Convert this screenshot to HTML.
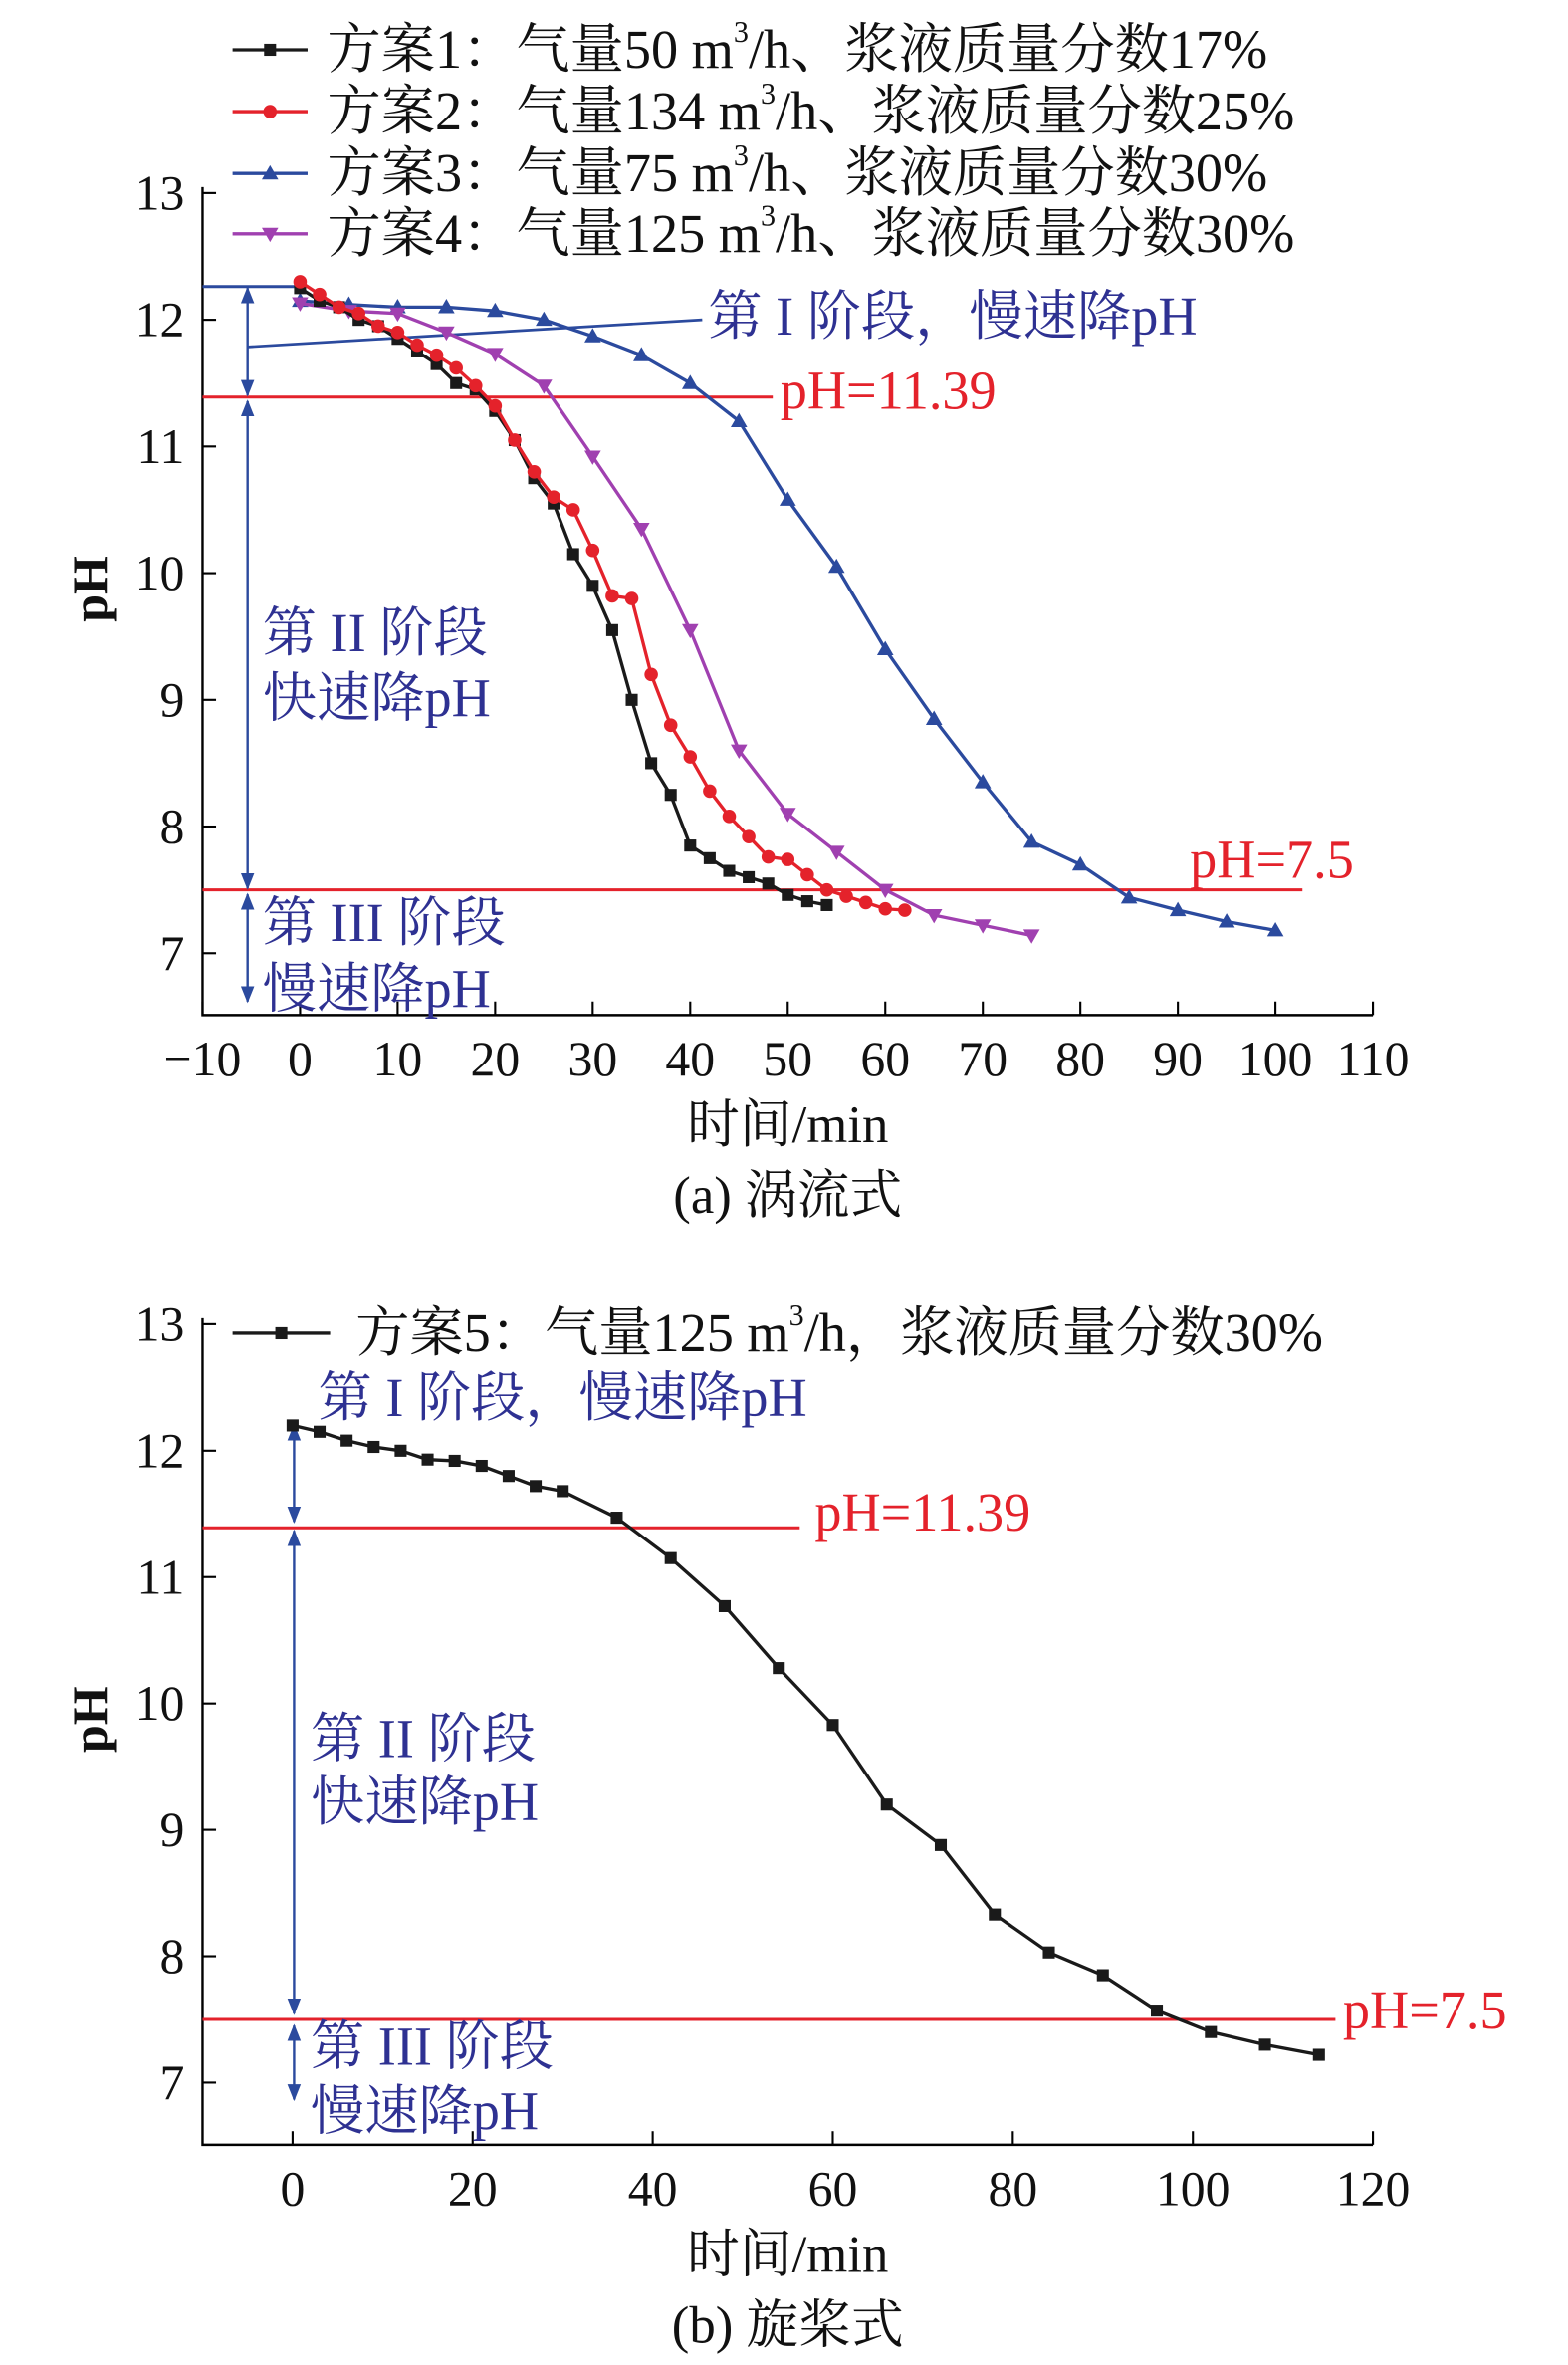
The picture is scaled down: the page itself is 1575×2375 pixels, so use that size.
<!DOCTYPE html>
<html><head><meta charset="utf-8"><style>
html,body{margin:0;padding:0;background:#fff}
svg{display:block}
text{font-family:"Liberation Serif","Noto Serif CJK SC",serif}
</style></head><body>
<svg id="root" width="1575" height="2375" viewBox="0 0 1045 1568" preserveAspectRatio="none" xmlns="http://www.w3.org/2000/svg"></svg>
<script>
// ---- Chart (a) data ----
const aXTicks = [-10,0,10,20,30,40,50,60,70,80,90,100,110];
const aYTicks = [7,8,9,10,11,12,13];
const s1T = [0,2,4,6,8,10,12,14,16,18,20,22,24,26,28,30,32,34,36,38,40,42,44,46,48,50,52,54];
const s1V = [12.25,12.15,12.1,12.0,11.95,11.85,11.75,11.65,11.5,11.45,11.28,11.05,10.75,10.55,10.15,9.9,9.55,9.0,8.5,8.25,7.85,7.75,7.65,7.6,7.55,7.46,7.41,7.38];
const s2T = [0,2,4,6,8,10,12,14,16,18,20,22,24,26,28,30,32,34,36,38,40,42,44,46,48,50,52,54,56,58,60,62];
const s2V = [12.3,12.2,12.1,12.05,11.95,11.9,11.8,11.72,11.62,11.48,11.32,11.05,10.8,10.6,10.5,10.18,9.82,9.8,9.2,8.8,8.55,8.28,8.08,7.92,7.76,7.74,7.62,7.5,7.45,7.4,7.35,7.34];
const s3T = [0,5,10,15,20,25,30,35,40,45,50,55,60,65,70,75,80,85,90,95,100];
const s3V = [12.15,12.12,12.1,12.1,12.07,12.0,11.87,11.72,11.5,11.2,10.58,10.05,9.4,8.85,8.35,7.88,7.7,7.44,7.34,7.25,7.18];
const s4T = [0,5,10,15,20,25,30,35,40,45,50,55,60,65,70,75];
const s4V = [12.13,12.07,12.05,11.9,11.73,11.48,10.92,10.35,9.55,8.6,8.1,7.8,7.5,7.3,7.22,7.14];
// ---- Chart (b) data ----
const bXTicks = [0,20,40,60,80,100,120];
const bYTicks = [7,8,9,10,11,12,13];
const s5T = [0,3,6,9,12,15,18,21,24,27,30,36,42,48,54,60,66,72,78,84,90,96,102,108,114];
const s5V = [12.2,12.15,12.08,12.03,12.0,11.93,11.92,11.88,11.8,11.72,11.68,11.47,11.15,10.77,10.28,9.83,9.2,8.88,8.33,8.03,7.85,7.57,7.4,7.3,7.22];
const thresholds = [11.39, 7.5];

const NS="http://www.w3.org/2000/svg";
const root=document.getElementById('root');
function mk(tag,attrs,parent){const e=document.createElementNS(NS,tag);for(const k in attrs)e.setAttribute(k,attrs[k]);(parent||root).appendChild(e);return e;}
function txt(s,x,y,size,fill,anchor,parent,extra){const t=mk('text',Object.assign({x:x,y:y,'font-size':size,fill:fill||'#111','text-anchor':anchor||'start','dominant-baseline':'central'},extra||{}),parent);t.textContent=s;return t;}

const BLUE='#2b4a9e',NAVY='#2e3192',RED='#e4222b',PURP='#a040b0',BLK='#1a1a1a';
const FS=36;
mk('defs',{}).innerHTML='<marker id="ah" viewBox="0 0 10 10" refX="9" refY="5" markerWidth="7" markerHeight="9" orient="auto-start-reverse"><path d="M0,1 L10,5 L0,9 Z" fill="'+BLUE+'"/></marker>';

function makeChart(cfg){
  const g=mk('g',{});
  
  
  const X=v=>cfg.L+(v-cfg.xmin)/(cfg.xmax-cfg.xmin)*(cfg.R-cfg.L);
  const Y=v=>cfg.y13+(13-v)*cfg.unit;
  const B=cfg.B;
  const ax=mk('path',{d:`M${cfg.L},${cfg.y13-4} V${B} H${cfg.R}`,stroke:'#000','stroke-width':1.6,fill:'none'},g);
  
  
  cfg.xticks.forEach(v=>{
    mk('line',{x1:X(v),x2:X(v),y1:B,y2:B-9,stroke:'#000','stroke-width':1.4},g);
    const t=txt((v<0?'\u2212':'')+Math.abs(v),X(v),B+29,33,'#111','middle',g);
    
    
  });
  cfg.yticks.forEach(v=>{
    mk('line',{x1:cfg.L,x2:cfg.L+9,y1:Y(v),y2:Y(v),stroke:'#000','stroke-width':1.4},g);
    const t=txt(String(v),cfg.L-12,Y(v),33,'#111','end',g);
    
    
  });
  const yt=txt('pH',0,0,33,'#111','middle',g,{'font-weight':'bold',transform:`translate(60,${(cfg.y13+B)/2-10}) rotate(-90)`});
  
  
  const xt=txt('时间/min',525,B+73,35,'#111','middle',g);
  
  
  const cap=txt(cfg.caption,525,B+120,35,'#111','middle',g);
  
  
  return {g,X,Y};
}

function marker(kind,x,y,color,g){
  if(kind==='sq') return mk('rect',{x:x-4,y:y-4,width:8,height:8,fill:color},g);
  if(kind==='ci') return mk('circle',{cx:x,cy:y,r:4.5,fill:color},g);
  if(kind==='tu') return mk('path',{d:`M${x},${y-5.5} L${x+5.5},${y+4} L${x-5.5},${y+4} Z`,fill:color},g);
  return mk('path',{d:`M${x},${y+5.5} L${x+5.5},${y-4} L${x-5.5},${y-4} Z`,fill:color},g);
}
function series(ch,T,V,color,kind,name){
  const g=mk('g',{},ch.g);
  
  
  mk('polyline',{points:T.map((t,i)=>ch.X(t)+','+ch.Y(V[i])).join(' '),fill:'none',stroke:color,'stroke-width':2.2},g);
  T.forEach((t,i)=>{const m=marker(kind,ch.X(t),ch.Y(V[i]),color,g);
    
    });
}
function legend(ch,x1,x2,y,color,kind,label,tx){
  const g=mk('g',{},ch.g);
  
  
  mk('line',{x1:x1,x2:x2,y1:y,y2:y,stroke:color,'stroke-width':2.2},g);
  marker(kind,(x1+x2)/2,y,color,g);
  const t=txt('',tx,y,FS,'#111','start',g);
  t.innerHTML=label;
}
function arrow(ch,x,y1,y2){
  const a=mk('line',{x1:x,x2:x,y1:y1,y2:y2,stroke:BLUE,'stroke-width':1.6,'marker-start':'url(#ah)','marker-end':'url(#ah)'},ch.g);
  
  
}
function hline(ch,v,x2,label,lx,ly){
  const l=mk('line',{x1:ch.X(-10),x2:x2,y1:ch.Y(v),y2:ch.Y(v),stroke:RED,'stroke-width':2},ch.g);
  
  
  const t=txt(label,lx,ly,FS,RED,'start',ch.g);
  
  
}
function note(ch,s,x,y){const t=txt(s,x,y,FS,NAVY,'start',ch.g);
  
  }
const SUP='<tspan font-size="20" dy="-12">3</tspan><tspan dy="12">';

// ---- Chart a ----
const A=makeChart({name:'chart-a',L:135,R:915,xmin:-10,xmax:110,y13:128,unit:84,B:673,xticks:aXTicks,yticks:aYTicks,caption:'(a) 涡流式'});
mk('line',{x1:135,x2:200,y1:190,y2:190,stroke:BLUE,'stroke-width':2},A.g);
mk('line',{x1:165,x2:468,y1:230,y2:212,stroke:BLUE,'stroke-width':1.8},A.g);
hline(A,thresholds[0],515,'pH=11.39',520,259);
hline(A,thresholds[1],868,'pH=7.5',793,570);
arrow(A,165,191,262);arrow(A,165,266,589);arrow(A,165,593,664);
series(A,s3T,s3V,BLUE,'tu','series-scheme3');
series(A,s4T,s4V,PURP,'td','series-scheme4');
series(A,s1T,s1V,BLK,'sq','series-scheme1');
series(A,s2T,s2V,RED,'ci','series-scheme2');
note(A,'第 I 阶段，慢速降pH',472,210);
note(A,'第 II 阶段',175,420);note(A,'快速降pH',175,463);
note(A,'第 III 阶段',175,612);note(A,'慢速降pH',175,656);
legend(A,155,205,33,BLK,'sq','方案1：气量50 m'+SUP+'/h、浆液质量分数17%</tspan>',218);
legend(A,155,205,74,RED,'ci','方案2：气量134 m'+SUP+'/h、浆液质量分数25%</tspan>',218);
legend(A,155,205,115,BLUE,'tu','方案3：气量75 m'+SUP+'/h、浆液质量分数30%</tspan>',218);
legend(A,155,205,155,PURP,'td','方案4：气量125 m'+SUP+'/h、浆液质量分数30%</tspan>',218);

// ---- Chart b ----
const Bc=makeChart({name:'chart-b',L:135,R:915,xmin:-10,xmax:120,y13:878,unit:83.8,B:1422,xticks:bXTicks,yticks:bYTicks,caption:'(b) 旋桨式'});
hline(Bc,thresholds[0],533,'pH=11.39',543,1003);
hline(Bc,thresholds[1],890,'pH=7.5',895,1333);
arrow(Bc,196,945,1009);arrow(Bc,196,1015,1335);arrow(Bc,196,1343,1392);
series(Bc,s5T,s5V,BLK,'sq','series-scheme5');
note(Bc,'第 I 阶段，慢速降pH',212,927);
note(Bc,'第 II 阶段',207,1153);note(Bc,'快速降pH',207,1195);
note(Bc,'第 III 阶段',207,1357);note(Bc,'慢速降pH',207,1400);
legend(Bc,155,220,884,BLK,'sq','方案5：气量125 m'+SUP+'/h，浆液质量分数30%</tspan>',237);
</script>
</body></html>
